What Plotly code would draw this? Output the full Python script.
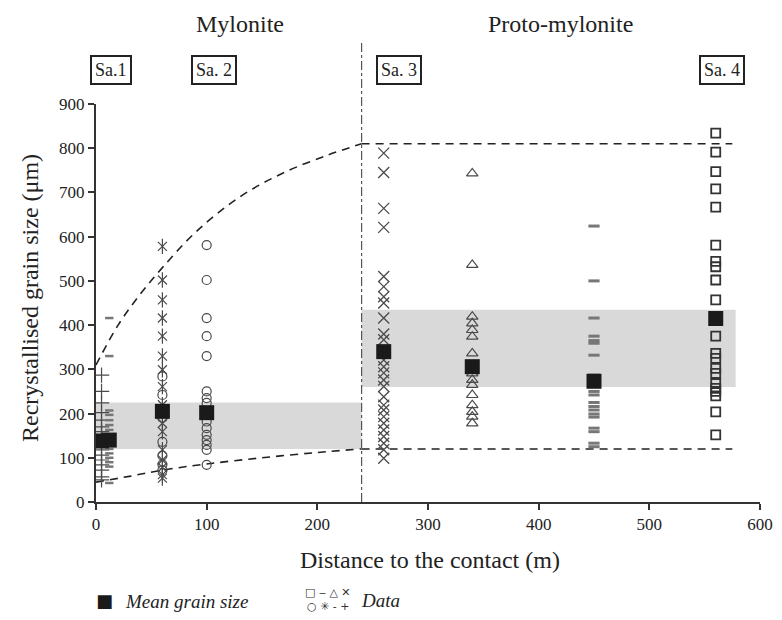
import plotly.graph_objects as go

# ---------------- data ----------------
plus_x = 5
plus_y = [287, 250, 224, 202, 185, 170, 159, 148, 133, 118, 106, 95, 84, 72, 57, 50]

dash1_x = 12
dash1_y = [416, 330, 207, 197, 185, 174, 163, 152, 141, 130, 120, 110, 100, 90, 80, 43]

ast_x = 60
ast_y = [578, 502, 457, 416, 375, 330, 299, 261, 220, 178, 159, 118, 95, 78, 62, 54]

circ2a_x = 60
circ2a_y = [284, 242, 190, 136, 105, 85, 72]

circ2b_x = 100
circ2b_y = [581, 502, 416, 375, 330, 250, 235, 224, 182, 167, 152, 140, 129, 118, 84]

xs3_x = 260
xs3_y = [789, 745, 664, 621, 510, 487, 464, 450, 416, 380, 367, 321, 306, 292, 276,
         261, 238, 219, 208, 193, 178, 163, 148, 133, 118, 99]

tri_x = 340
tri_y = [743, 536, 419, 404, 389, 374, 336, 291, 276, 265, 242, 219, 204, 193, 178]

dash5_x = 450
dash5_y = [624, 500, 416, 375, 365, 359, 332, 287, 250, 242, 225, 216, 208, 199,
           192, 167, 159, 133, 125]

sq_x = 560
sq_y = [834, 791, 747, 708, 667, 581, 544, 532, 502, 457, 375, 336, 325, 302, 291,
        268, 257, 250, 240, 204, 152]

mean_x = [5, 12, 60, 100, 260, 340, 450, 560]
mean_y = [138, 140, 205, 202, 340, 306, 273, 415]

# envelope curves (dashed)
upper_cx = [0, 20, 40, 60, 90, 130, 170, 210, 240]
upper_cy = [310, 400, 470, 530, 610, 690, 745, 785, 810]
lower_cx = [0, 30, 60, 100, 150, 200, 240]
lower_cy = [45, 58, 72, 86, 100, 112, 120]
plateau_x = [240, 575]
plateau_hi = [810, 810]
plateau_lo = [120, 120]

# grey bands (x0, x1, y0, y1)
band_left = [0, 240, 120, 225]
band_right = [240, 578, 260, 435]
boundary_x = 240

x_ticks = [0, 100, 200, 300, 400, 500, 600]
y_ticks = [0, 100, 200, 300, 400, 500, 600, 700, 800, 900]

SERIF = "Liberation Serif, Times New Roman, serif"
MC = "#4a4a4a"

fig = go.Figure()

def pts(x, ys, symbol, size, width=1.3, color=MC):
    fig.add_trace(go.Scatter(
        x=[x] * len(ys), y=ys, mode="markers", showlegend=False, hoverinfo="skip",
        marker=dict(symbol=symbol, size=size, color=color,
                    line=dict(width=width, color=color))))

# envelope lines
for cx, cy in [(upper_cx, upper_cy), (lower_cx, lower_cy),
               (plateau_x, plateau_hi), (plateau_x, plateau_lo)]:
    fig.add_trace(go.Scatter(x=cx, y=cy, mode="lines", line_shape="spline",
                             showlegend=False, hoverinfo="skip",
                             line=dict(color="#222", width=1.6, dash="8px,6px")))

pts(plus_x, plus_y, "cross-thin-open", 11, 1.2)
pts(dash1_x, dash1_y, "line-ew-open", 6, 2.5, "#777")
pts(ast_x, ast_y, "x-thin-open", 9, 1.2)
pts(ast_x, ast_y, "line-ns-open", 11, 1.2)
pts(circ2a_x, circ2a_y, "circle-open", 9, 1.2)
pts(circ2b_x, circ2b_y, "circle-open", 9, 1.2)
pts(xs3_x, xs3_y, "x-thin-open", 11, 1.3)
pts(tri_x, tri_y, "triangle-up-open", 10, 1.2)
pts(dash5_x, dash5_y, "line-ew-open", 8, 3, "#777")
pts(sq_x, sq_y, "square-open", 9, 1.8, "#333")

fig.add_trace(go.Scatter(x=mean_x, y=mean_y, mode="markers", showlegend=False,
                         hoverinfo="skip",
                         marker=dict(symbol="square", size=15, color="#1a1a1a",
                                     line=dict(width=0))))

shapes = []
for b in (band_left, band_right):
    shapes.append(dict(type="rect", xref="x", yref="y", x0=b[0], x1=b[1], y0=b[2], y1=b[3],
                       fillcolor="#d9d9d9", line=dict(width=0), layer="below"))
shapes.append(dict(type="line", xref="x", yref="paper", x0=boundary_x, x1=boundary_x,
                   y0=0, y1=1.16, line=dict(color="#555", width=1.2, dash="dashdot")))

# page body has an 8px margin; figure sized so the page fits the 782x620 window
OFF = 8
W, H = 782 - 2 * OFF, 620 - 2 * OFF
L, T = 96 - OFF, 104 - OFF
R = W - (760 - OFF)
B = H - (502 - OFF)
pw, ph = W - L - R, H - T - B

ann = []
def ptxt(text, px, py, size=22, textangle=0, **kw):
    fx, fy = px - OFF, py - OFF
    d = dict(text=text, x=(fx - L) / pw, y=1 - (fy - T) / ph, xref="paper", yref="paper",
             showarrow=False, font=dict(family=SERIF, size=size, color="#222"),
             xanchor="center", yanchor="middle", textangle=textangle)
    d.update(kw)
    ann.append(d)

ptxt("Mylonite", 240, 24, 24)
ptxt("Proto-mylonite", 560, 24, 24)
for t, px in [("Sa.1", 111), ("Sa. 2", 214), ("Sa. 3", 399), ("Sa. 4", 722)]:
    ptxt(t, px, 70, 18, bordercolor="#222", borderwidth=2, borderpad=3, bgcolor="white")

ptxt("Distance to the contact (m)", 430, 560, 24)
ptxt("Recrystallised grain size (μm)", 30, 298, 24, textangle=-90)

ptxt("■", 104, 600, 18, font=dict(family="DejaVu Sans", size=18, color="#1a1a1a"))
ptxt("<i>Mean grain size</i>", 186, 601, 19)
ptxt("□ ‒ △ ✕", 328, 592, 11, font=dict(family="DejaVu Sans", size=11, color="#333"))
ptxt("○ ✳ ‐ +", 328, 606, 11, font=dict(family="DejaVu Sans", size=11, color="#333"))
ptxt("<i>Data</i>", 380, 600, 19)

fig.update_layout(
    width=W, height=H, margin=dict(l=L, r=R, t=T, b=B, autoexpand=False),
    plot_bgcolor="white", paper_bgcolor="white",
    shapes=shapes, annotations=ann,
    font=dict(family=SERIF, color="#222"),
    xaxis=dict(range=[0, 600], tickvals=x_ticks, showgrid=False, zeroline=False,
               showline=True, linecolor="#333", linewidth=2, ticks="outside",
               ticklen=6, tickcolor="#333", tickwidth=2, automargin=False,
               ticklabeloverflow="allow",
               tickfont=dict(family=SERIF, size=17, color="#222")),
    yaxis=dict(range=[0, 900], tickvals=y_ticks, showgrid=False, zeroline=False,
               showline=True, linecolor="#333", linewidth=2, ticks="outside",
               ticklen=6, tickcolor="#333", tickwidth=2, automargin=False,
               ticklabeloverflow="allow",
               tickfont=dict(family=SERIF, size=17, color="#222")),
)

fig.write_html("out.html")
